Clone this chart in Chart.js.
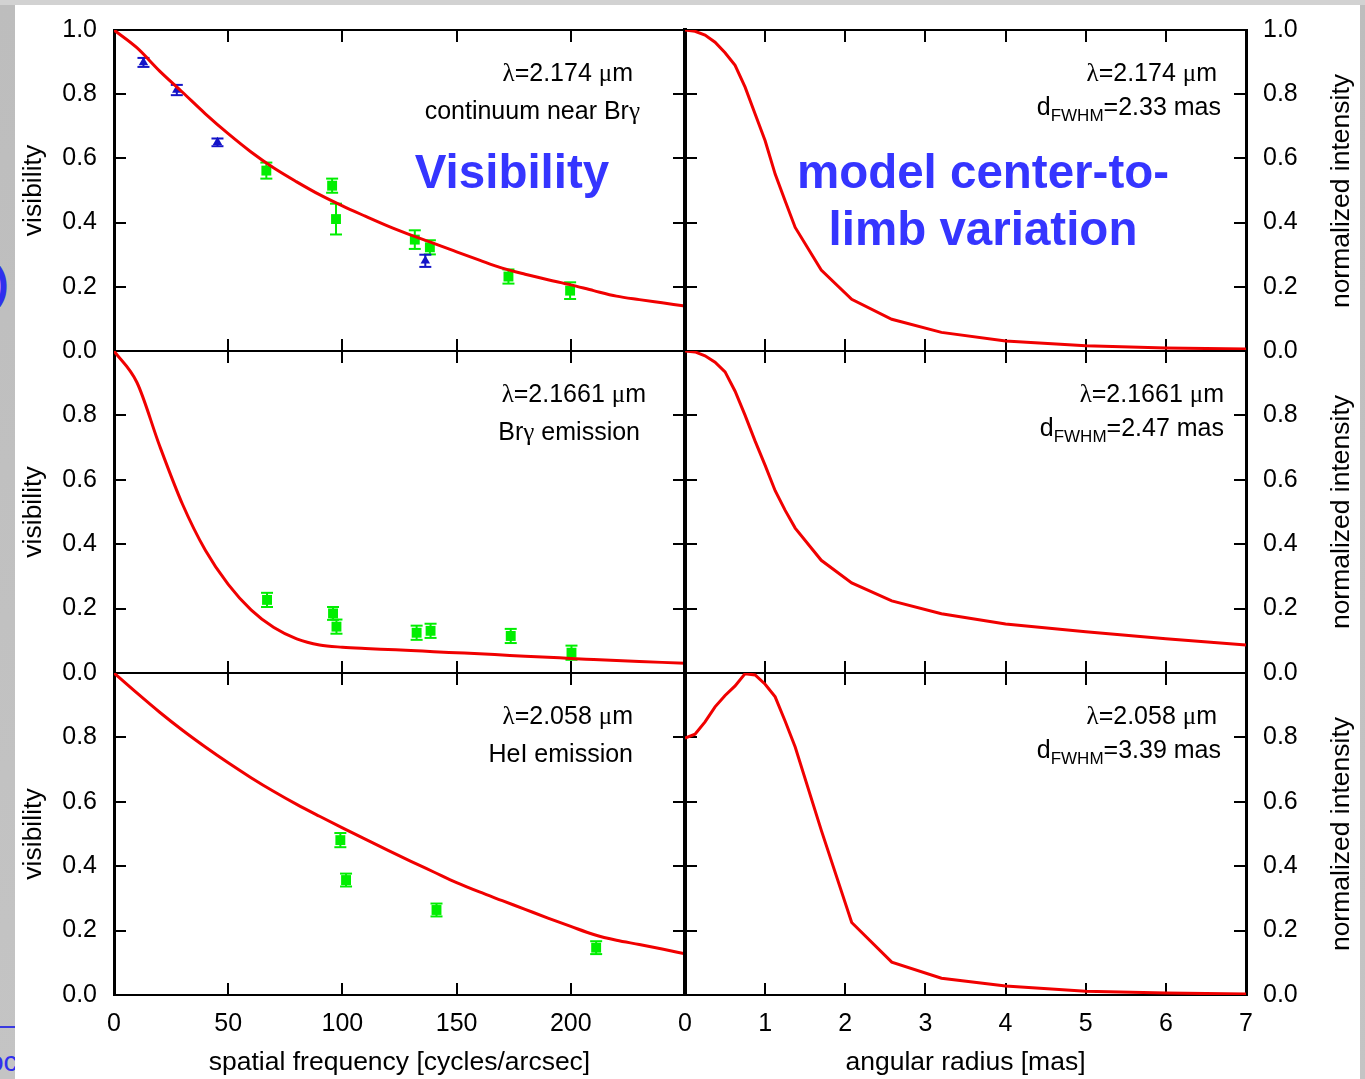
<!DOCTYPE html>
<html>
<head>
<meta charset="utf-8">
<script src="https://cdn.jsdelivr.net/npm/chart.js@4.4.1/dist/chart.umd.min.js"></script>
<style>
  html, body { margin: 0; padding: 0; }
  body { width: 1365px; height: 1079px; position: relative; overflow: hidden;
         background: linear-gradient(#d2d2d2 0, #d2d2d2 5px, #bdbdbd 5px, #c4c4c4 100%);
         font-family: "Liberation Sans", Arial, sans-serif; }
  #hoja { position: absolute; left: 15px; top: 5px; width: 1345px; height: 1074px; background: #fff; }
  canvas { position: absolute; }
  .nota { position: absolute; font-size: 25px; line-height: 24px; color: #000; white-space: nowrap; }
  .sim { font-family: "Liberation Serif", serif; }
  .sub { font-size: 17px; position: relative; top: 6px; }
  .titulo { position: absolute; color: #3535ff; font-weight: bold; font-size: 47.5px; line-height: 57px;
            text-align: center; white-space: nowrap; }
  .ytit { position: absolute; width: 300px; height: 28px; line-height: 28px; font-size: 26.5px; text-align: center;
          transform: rotate(-90deg); white-space: nowrap; color: #000; }
  .fondo { position: absolute; color: #3030ee; font-weight: bold; }
</style>
</head>
<body>
<div class="fondo" style="left:-6px; top:258px; font-size:44px;">)</div>
<div style="position:absolute; left:0; top:1026px; width:15px; height:2px; background:#3a3ae0;"></div>
<div class="fondo" style="left:-12px; top:1046px; font-size:28px; font-weight:normal;">oc</div>
<div id="hoja"></div>

<script>
// ---- datos: visibilidades (columna izquierda) ----
const freqGrid = [0, 10, 20, 30, 40, 50, 60, 70, 80, 90, 100, 110, 120, 130, 140, 150, 160, 170, 180, 190, 200, 210, 220, 230, 240, 250];
const visContModel = [1.0, 0.945, 0.872, 0.806, 0.739, 0.677, 0.620, 0.570, 0.527, 0.487, 0.452, 0.420, 0.389, 0.361, 0.335, 0.309, 0.283, 0.258, 0.239, 0.222, 0.206, 0.188, 0.171, 0.160, 0.150, 0.140];
const visBrgModel = [1.0, 0.903, 0.705, 0.524, 0.381, 0.275, 0.196, 0.141, 0.106, 0.087, 0.080, 0.076, 0.073, 0.070, 0.066, 0.063, 0.060, 0.056, 0.052, 0.049, 0.045, 0.042, 0.039, 0.036, 0.033, 0.030];
const visHeModel = [1.0, 0.938, 0.878, 0.822, 0.770, 0.721, 0.675, 0.632, 0.592, 0.555, 0.519, 0.484, 0.449, 0.415, 0.382, 0.349, 0.320, 0.293, 0.266, 0.239, 0.213, 0.188, 0.170, 0.157, 0.143, 0.128];

// continuo: triangulos azules y cuadros verdes
const contTriFreq = [12.9, 27.5, 45.3, 136.3];
const contTriVis = [0.899, 0.813, 0.650, 0.281];
const contTriErr = [0.014, 0.016, 0.012, 0.019];
const contSqFreq = [66.7, 95.5, 97.2, 131.7, 138.3, 172.7, 199.7];
const contSqVis = [0.562, 0.515, 0.411, 0.347, 0.323, 0.232, 0.188];
const contSqErr = [0.025, 0.022, 0.048, 0.029, 0.022, 0.022, 0.026];

// Br gamma
const brgSqFreq = [67.0, 95.9, 97.4, 132.5, 138.6, 173.7, 200.3];
const brgSqVis = [0.227, 0.185, 0.144, 0.125, 0.131, 0.115, 0.063];
const brgSqErr = [0.022, 0.020, 0.022, 0.022, 0.022, 0.022, 0.022];

// HeI
const heSqFreq = [99.1, 101.6, 141.2, 211.1];
const heSqVis = [0.481, 0.357, 0.264, 0.147];
const heSqErr = [0.022, 0.020, 0.020, 0.020];

// ---- datos: perfiles de intensidad (columna derecha) ----
const radiusGrid = [0, 0.125, 0.25, 0.375, 0.5, 0.625, 0.75, 0.875, 1.0, 1.125, 1.25, 1.375, 1.7, 2.08, 2.58, 3.2, 4.0, 5.0, 6.0, 7.0];
const intContModel = [1.0, 0.996, 0.984, 0.962, 0.929, 0.890, 0.822, 0.738, 0.655, 0.551, 0.467, 0.385, 0.252, 0.161, 0.099, 0.058, 0.031, 0.016, 0.009, 0.006];
const intBrgModel = [1.0, 0.997, 0.985, 0.965, 0.935, 0.875, 0.800, 0.720, 0.645, 0.566, 0.505, 0.450, 0.350, 0.280, 0.224, 0.184, 0.152, 0.128, 0.106, 0.087];
const intHeModel = [0.798, 0.810, 0.848, 0.895, 0.930, 0.960, 0.998, 0.994, 0.965, 0.926, 0.850, 0.770, 0.512, 0.225, 0.102, 0.052, 0.028, 0.012, 0.006, 0.003];

// ---- textos ----
const lambdas = ['2.174', '2.1661', '2.058'];
const lineasIzq = ['continuum near Brγ', 'Brγ emission', 'HeI emission'];
const fwhms = ['2.33', '2.47', '3.39'];

const rojo = '#f00000';
const verde = '#00ee00';
const azul = '#1414c8';
const fuente = { family: "'Liberation Sans', Arial, sans-serif", size: 25 };
const fuenteTitulo = { family: "'Liberation Sans', Arial, sans-serif", size: 26.5 };

function puntos(xs, ys) {
  return xs.map((x, i) => ({ x: x, y: ys[i] }));
}

// barras de error como segmentos separados por huecos
function barras(xs, ys, es) {
  const out = [];
  xs.forEach((x, i) => {
    out.push({ x: x, y: ys[i] - es[i] }, { x: x, y: ys[i] + es[i] }, { x: x, y: null });
  });
  return out;
}

function curva(xs, ys, suave) {
  return {
    data: puntos(xs, ys), showLine: true, borderColor: rojo, borderWidth: 3,
    pointRadius: 0, tension: 0, cubicInterpolationMode: suave ? 'monotone' : 'default', order: 0
  };
}

function errores(xs, ys, es, color) {
  return {
    data: barras(xs, ys, es), showLine: true, spanGaps: false, borderColor: color, borderWidth: 2,
    pointStyle: 'line', pointRadius: 6, pointBorderColor: color, pointBorderWidth: 2, order: 2
  };
}

function marcas(xs, ys, color, estilo, radio) {
  return {
    data: puntos(xs, ys), showLine: false, pointStyle: estilo, pointRadius: radio,
    pointBackgroundColor: color, pointBorderColor: color, pointBorderWidth: 0, order: 1
  };
}

// fija el tamaño del eje y quita el margen extra que Chart.js reserva para las etiquetas
function fijar(s, ancho, alto) {
  if (ancho !== null) s.width = ancho;
  if (alto !== null) s.height = alto;
  s.paddingTop = 0;
  s.paddingBottom = 0;
  s.paddingLeft = 0;
  s.paddingRight = 0;
}

function crearPanel(p) {
  const canvas = document.createElement('canvas');
  canvas.width = p.padL + p.ancho + p.padR;
  canvas.height = p.padT + p.alto + p.padB;
  canvas.style.left = (p.x0 - p.padL) + 'px';
  canvas.style.top = (p.y0 - p.padT) + 'px';
  document.body.appendChild(canvas);

  const tic = { drawOnChartArea: false, drawTicks: true, tickLength: -12, color: '#000', lineWidth: 2 };
  const izq = p.lado === 'left';

  new Chart(canvas, {
    type: 'scatter',
    data: { datasets: p.datasets },
    options: {
      responsive: false,
      animation: false,
      events: [],
      layout: { padding: 0 },
      plugins: { legend: { display: false }, tooltip: { enabled: false } },
      scales: {
        x: {
          type: 'linear', position: 'bottom', min: p.xMin, max: p.xMax,
          grid: tic, border: { color: '#000', width: 2 },
          ticks: {
            display: p.conX, stepSize: p.xPaso, autoSkip: false, maxRotation: 0, padding: 26,
            color: '#000', font: fuente, callback: v => (v === 250 ? '' : v)
          },
          title: { display: p.conX, text: p.xTitulo, color: '#000', font: fuenteTitulo, padding: { top: 0, bottom: 0 } },
          afterFit: s => fijar(s, null, p.padB)
        },
        x2: {
          type: 'linear', position: 'top', min: p.xMin, max: p.xMax,
          grid: tic, border: { color: '#000', width: 2 },
          ticks: { display: false, stepSize: p.xPaso },
          afterFit: s => fijar(s, null, p.padT)
        },
        y: {
          type: 'linear', position: p.lado, min: 0, max: 1,
          grid: tic, border: { color: '#000', width: 3 },
          ticks: {
            stepSize: 0.2, padding: 29, color: '#000', font: fuente,
            callback: v => (p.sinUno && v > 0.99 ? '' : v.toFixed(1))
          },
          title: { display: izq, text: 'visibility', color: '#000', font: fuenteTitulo, padding: { top: 18, bottom: 0 } },
          afterFit: s => fijar(s, izq ? p.padL : p.padR, null)
        },
        y2: {
          type: 'linear', position: izq ? 'right' : 'left', min: 0, max: 1,
          grid: tic, border: { color: '#000', width: izq ? 3 : 4 },
          ticks: { display: false, stepSize: 0.2 },
          afterFit: s => fijar(s, izq ? p.padR : p.padL, null)
        }
      }
    }
  });
}

const filas = [30, 351, 673];
const altos = [321, 322, 322];

const datosIzq = [
  [curva(freqGrid, visContModel, true),
   marcas(contTriFreq, contTriVis, azul, 'triangle', 5.5),
   marcas(contSqFreq, contSqVis, verde, 'rect', 7),
   errores(contTriFreq, contTriVis, contTriErr, azul),
   errores(contSqFreq, contSqVis, contSqErr, verde)],
  [curva(freqGrid, visBrgModel, true),
   marcas(brgSqFreq, brgSqVis, verde, 'rect', 7),
   errores(brgSqFreq, brgSqVis, brgSqErr, verde)],
  [curva(freqGrid, visHeModel, true),
   marcas(heSqFreq, heSqVis, verde, 'rect', 7),
   errores(heSqFreq, heSqVis, heSqErr, verde)]
];
const datosDer = [
  [curva(radiusGrid, intContModel, false)],
  [curva(radiusGrid, intBrgModel, false)],
  [curva(radiusGrid, intHeModel, false)]
];

filas.forEach((y0, i) => {
  const ultima = i === 2;
  const padT = i === 0 ? 30 : 20;
  const padB = ultima ? 84 : 20;
  crearPanel({
    lado: 'left', x0: 114, y0: y0, ancho: 571, alto: altos[i], padL: 114, padR: 20, padT: padT, padB: padB,
    xMin: 0, xMax: 250, xPaso: 50, conX: ultima, xTitulo: 'spatial frequency [cycles/arcsec]',
    sinUno: i > 0, datasets: datosIzq[i]
  });
  crearPanel({
    lado: 'right', x0: 685, y0: y0, ancho: 561, alto: altos[i], padL: 20, padR: 119, padT: padT, padB: padB,
    xMin: 0, xMax: 7, xPaso: 1, conX: ultima, xTitulo: 'angular radius [mas]',
    sinUno: i > 0, datasets: datosDer[i]
  });
});

// ---- anotaciones ----
function nota(html, derecha, cy) {
  const d = document.createElement('div');
  d.className = 'nota';
  d.innerHTML = html;
  d.style.right = (1365 - derecha) + 'px';
  d.style.top = (cy - 12) + 'px';
  document.body.appendChild(d);
}

const dLamIzq = [633, 646, 633];
const dLin2Izq = [640, 640, 633];
const dLamDer = [1217, 1224, 1217];
const dFwDer = [1221, 1224, 1221];

filas.forEach((y0, i) => {
  const lam = '<span class="sim">λ</span>=' + lambdas[i] + ' <span class="sim">μ</span>m';
  nota(lam, dLamIzq[i], y0 + 42);
  nota(lineasIzq[i].replace('γ', '<span class="sim">γ</span>'), dLin2Izq[i], y0 + 80);
  nota(lam, dLamDer[i], y0 + 42);
  nota('d<span class="sub">FWHM</span>=' + fwhms[i] + ' mas', dFwDer[i], y0 + 76);

  const t = document.createElement('div');
  t.className = 'ytit';
  t.textContent = 'normalized intensity';
  t.style.left = (1340 - 150) + 'px';
  t.style.top = (y0 + altos[i] / 2 - 14) + 'px';
  document.body.appendChild(t);
});

const t1 = document.createElement('div');
t1.className = 'titulo';
t1.style.left = (512 - 150) + 'px';
t1.style.width = '300px';
t1.style.top = '143px';
t1.textContent = 'Visibility';
document.body.appendChild(t1);

const t2 = document.createElement('div');
t2.className = 'titulo';
t2.style.left = (983 - 250) + 'px';
t2.style.width = '500px';
t2.style.top = '143px';
t2.innerHTML = 'model center-to-<br>limb variation';
document.body.appendChild(t2);
</script>
</body>
</html>
